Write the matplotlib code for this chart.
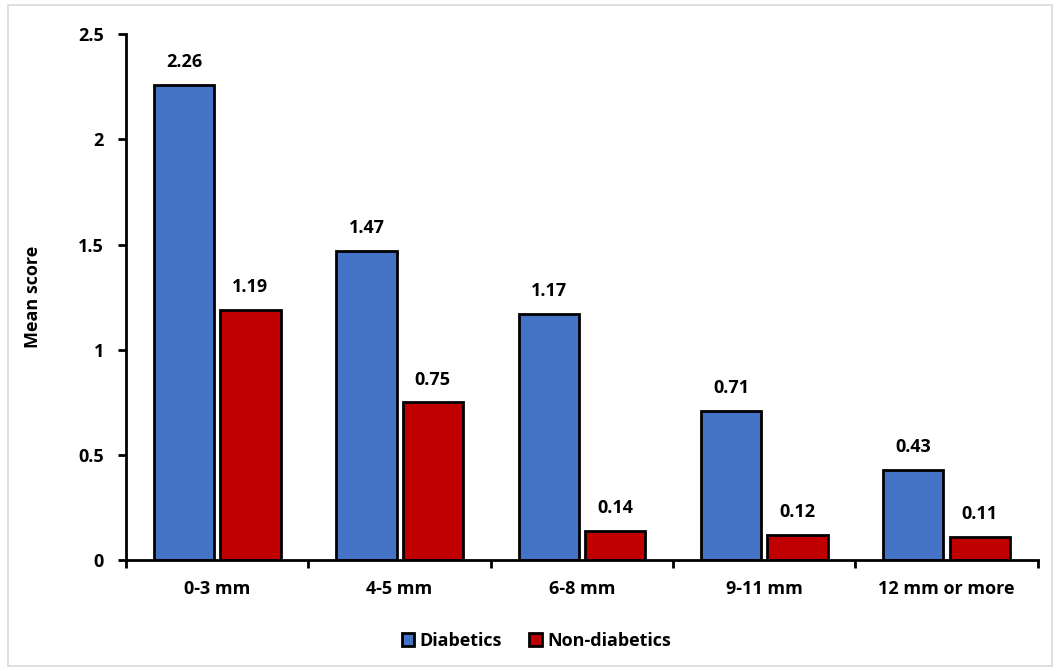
import numpy as np
import matplotlib.pyplot as plt
from matplotlib.patches import Rectangle

categories = ['0-3 mm', '4-5 mm', '6-8 mm', '9-11 mm', '12 mm or more']
diabetics = [2.26, 1.47, 1.17, 0.71, 0.43]
non_diabetics = [1.19, 0.75, 0.14, 0.12, 0.11]

plt.rcParams['font.family'] = ['Open Sans', 'DejaVu Sans']
plt.rcParams['font.weight'] = 'bold'

fig = plt.figure(figsize=(10.6, 6.71), dpi=100)
ax = fig.add_axes([0.119, 0.165, 0.86, 0.784])

# light frame round the whole chart
fig.patches.append(Rectangle((0.008, 0.008), 0.984, 0.984, transform=fig.transFigure,
                             fill=False, edgecolor='#d9d9d9', lw=1.2))

x = np.arange(len(categories))
w = 0.33
off = 0.182
b1 = ax.bar(x - off, diabetics, w, color='#4472C4', edgecolor='black', lw=2, label='Diabetics')
b2 = ax.bar(x + off, non_diabetics, w, color='#C00000', edgecolor='black', lw=2, label='Non-diabetics')

fs = 13
for bars, vals in ((b1, diabetics), (b2, non_diabetics)):
    for b, v in zip(bars, vals):
        ax.text(b.get_x() + b.get_width() / 2, v + 0.065, f'{v:.2f}', ha='center', va='bottom',
                fontsize=fs, fontweight='bold')

ax.set_xlim(-0.5, 4.5)
ax.set_ylim(0, 2.5)
ax.set_yticks([0, 0.5, 1, 1.5, 2, 2.5])
ax.set_yticklabels(['0', '0.5', '1', '1.5', '2', '2.5'])
ax.set_xticks(x)
ax.set_xticklabels(categories)
ax.set_xticks(np.arange(-0.5, 5, 1), minor=True)
ax.tick_params(axis='x', which='major', length=0, pad=14, labelsize=fs)
ax.tick_params(axis='x', which='minor', length=6, width=2, direction='out')
ax.tick_params(axis='y', length=6, width=2, labelsize=fs, pad=10)

for s in ('top', 'right'):
    ax.spines[s].set_visible(False)
ax.spines['left'].set_linewidth(2)
ax.spines['bottom'].set_linewidth(2)

ax.set_ylabel('Mean score', fontsize=fs, fontweight='bold', labelpad=26)

ax.legend(loc='upper center', bbox_to_anchor=(0.45, -0.105), ncol=2, frameon=False,
          fontsize=fs, handlelength=0.7, handleheight=0.7, handletextpad=0.3,
          columnspacing=1.5)

fig.savefig('out.png', dpi=100)
